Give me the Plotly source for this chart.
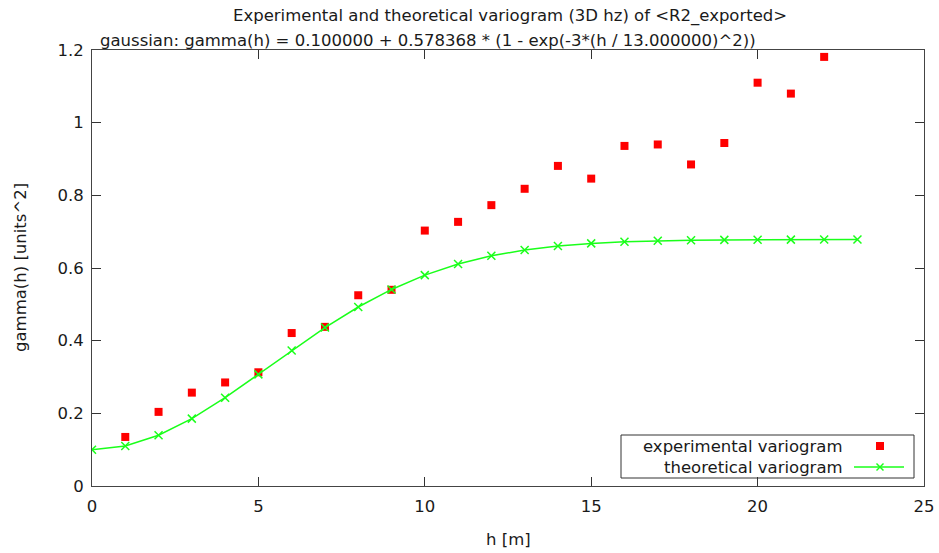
import plotly.graph_objects as go

# ---- data ----
h_exp = list(range(1, 23))
gamma_exp = [0.135, 0.204, 0.257, 0.285, 0.313, 0.421, 0.438, 0.525, 0.540, 0.703,
             0.727, 0.773, 0.818, 0.881, 0.846, 0.936, 0.940, 0.885, 0.944, 1.110,
             1.080, 1.181]

h_theo = list(range(0, 24))
gamma_theo = [0.1000, 0.1102, 0.1396, 0.1854, 0.2430, 0.3073, 0.3731, 0.4360,
              0.4927, 0.5410, 0.5804, 0.6109, 0.6335, 0.6496, 0.6605, 0.6677,
              0.6722, 0.6749, 0.6765, 0.6774, 0.6779, 0.6781, 0.6783, 0.6783]

x_ticks = [0, 5, 10, 15, 20, 25]
y_ticks = [0, 0.2, 0.4, 0.6, 0.8, 1.0, 1.2]
y_tick_labels = ["0", "0.2", "0.4", "0.6", "0.8", "1", "1.2"]

title_text = "Experimental and theoretical variogram (3D hz) of &lt;R2_exported&gt;"
model_text = "gaussian: gamma(h) = 0.100000 + 0.578368 * (1 - exp(-3*(h / 13.000000)^2))"
legend_names = ["experimental variogram", "theoretical variogram"]

W, H = 939, 553
L, R, T, B = 92, 15, 50, 67
PW, PH = W - L - R, H - T - B


def px(x):
    return (x - L) / PW


def py(y):
    return (H - B - y) / PH


FONT = "DejaVu Sans"
FS = 16.5
RED = "#ff0000"
GREEN = "#1aff1a"
TXT = "#1a1a1a"

fig = go.Figure()
fig.add_trace(go.Scatter(
    x=h_exp, y=gamma_exp, mode="markers", name=legend_names[0],
    marker=dict(symbol="square", size=8, color=RED, line=dict(width=0)),
    showlegend=False))
fig.add_trace(go.Scatter(
    x=h_theo, y=gamma_theo, mode="lines+markers", name=legend_names[1],
    line=dict(color=GREEN, width=1.5),
    marker=dict(symbol="x-thin", size=8, color=GREEN, line=dict(color=GREEN, width=1.5)),
    showlegend=False))

axis_common = dict(
    showgrid=False, zeroline=False, showline=True, linecolor="#444444", linewidth=1,
    mirror="allticks", ticks="inside", ticklen=9, tickwidth=1, tickcolor="#333333",
    tickfont=dict(family=FONT, size=FS, color=TXT), automargin=False,
)
fig.update_xaxes(range=[0, 25], tickvals=x_ticks, ticktext=[str(v) for v in x_ticks],
                 ticklabelstandoff=5, **axis_common)
fig.update_yaxes(range=[0, 1.2], tickvals=y_ticks, ticktext=y_tick_labels,
                 ticklabelstandoff=4, **axis_common)

ann = []
ann.append(dict(text=title_text, x=px(510), y=py(16), xref="paper", yref="paper",
                xanchor="center", yanchor="middle", showarrow=False,
                font=dict(family=FONT, size=FS, color=TXT)))
ann.append(dict(text=model_text, x=px(98), y=py(41), xref="paper", yref="paper",
                xanchor="left", yanchor="middle", showarrow=False,
                font=dict(family=FONT, size=FS, color=TXT)))
ann.append(dict(text="gamma(h) [units^2]", x=px(20), y=py(268), xref="paper", yref="paper",
                xanchor="center", yanchor="middle", showarrow=False, textangle=-90,
                font=dict(family=FONT, size=FS, color=TXT)))
ann.append(dict(text="h [m]", x=px(508), y=py(539), xref="paper", yref="paper",
                xanchor="center", yanchor="middle", showarrow=False,
                font=dict(family=FONT, size=FS, color=TXT)))
# legend text
for i, name in enumerate(legend_names):
    ann.append(dict(text=name, x=px(845), y=py(446 + 21 * i), xref="paper", yref="paper",
                    xanchor="right", yanchor="middle", showarrow=False,
                    font=dict(family=FONT, size=FS, color=TXT)))

shapes = []
# legend box
shapes.append(dict(type="rect", xref="paper", yref="paper",
                   x0=px(621), x1=px(914), y0=py(478), y1=py(435),
                   line=dict(color="#333333", width=1), fillcolor="rgba(0,0,0,0)"))
# legend sample: red square
shapes.append(dict(type="rect", xref="paper", yref="paper",
                   x0=px(876), x1=px(884), y0=py(450), y1=py(442),
                   line=dict(width=0), fillcolor=RED))
# legend sample: green line with x
shapes.append(dict(type="line", xref="paper", yref="paper",
                   x0=px(854), x1=px(904), y0=py(467), y1=py(467),
                   line=dict(color=GREEN, width=1.5)))
shapes.append(dict(type="line", xref="paper", yref="paper",
                   x0=px(876.5), x1=px(883.5), y0=py(463.5), y1=py(470.5),
                   line=dict(color=GREEN, width=1.5)))
shapes.append(dict(type="line", xref="paper", yref="paper",
                   x0=px(876.5), x1=px(883.5), y0=py(470.5), y1=py(463.5),
                   line=dict(color=GREEN, width=1.5)))

fig.update_layout(
    width=W, height=H, margin=dict(l=L, r=R, t=T, b=B),
    paper_bgcolor="white", plot_bgcolor="white",
    annotations=ann, shapes=shapes, showlegend=False,
)

fig.write_html("out.html", config={"responsive": False, "displayModeBar": False})
